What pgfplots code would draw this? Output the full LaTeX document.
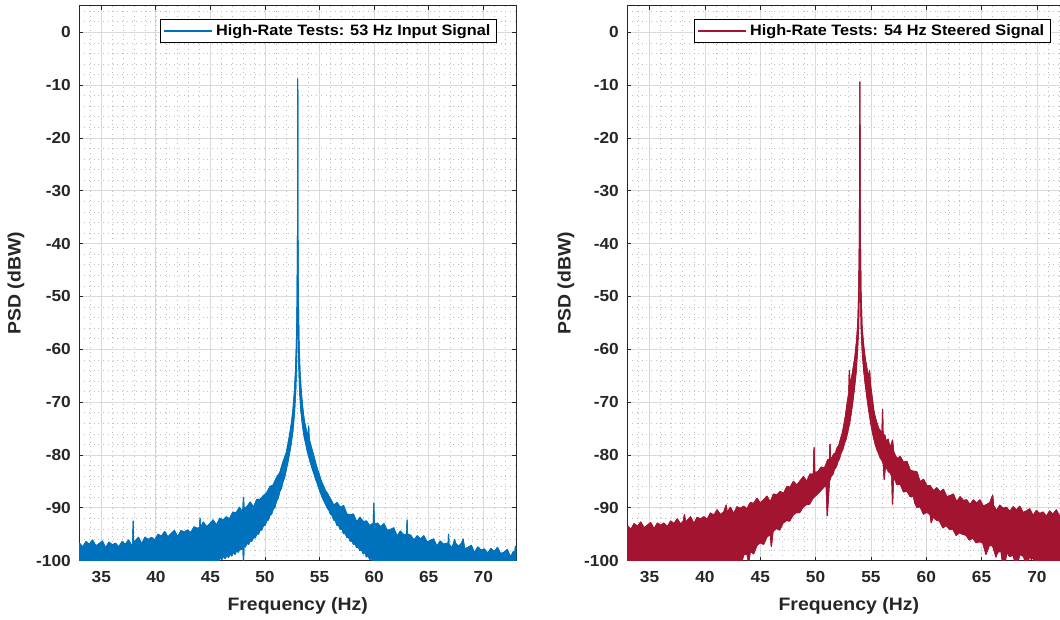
\documentclass[border=0pt]{standalone}
\usepackage{pgfplots}
\usepackage{pgfplotstable}
\pgfplotsset{compat=1.18}
\usepackage{fontspec}
\setmainfont{Liberation Sans}[FakeStretch=1.08]
\definecolor{mblue}{RGB}{0,114,189}
\definecolor{mred}{RGB}{162,20,47}
\definecolor{gridc}{RGB}{218,218,218}
\definecolor{axc}{RGB}{38,38,38}
% Left panel: upper envelope (left to right), then lower envelope (right to left)
\pgfplotstableread[row sep=\\]{
x y\\
33.0 -96.7\\ 33.3 -97.4\\ 33.6 -96.4\\ 33.9 -96.9\\ 34.2 -96.1\\ 34.5 -97.2\\ 34.8 -96.8\\ 35.1 -96.3\\
35.4 -97.6\\ 35.7 -96.5\\ 36.0 -97.0\\ 36.3 -96.7\\ 36.6 -97.4\\ 36.9 -96.4\\ 37.2 -96.9\\ 37.5 -96.1\\
37.8 -97.2\\ 37.88 -96.8\\ 37.92 -92.5\\ 37.96 -96.6\\ 38.1 -96.3\\ 38.4 -95.6\\ 38.7 -96.8\\ 39.0 -95.6\\
39.3 -96.0\\ 39.6 -95.6\\ 39.9 -96.1\\ 40.2 -95.0\\ 40.5 -95.4\\ 40.8 -94.5\\ 41.1 -95.5\\ 41.4 -94.9\\
41.7 -94.3\\ 42.0 -95.5\\ 42.3 -94.3\\ 42.6 -94.6\\ 42.9 -94.2\\ 43.2 -94.7\\ 43.5 -93.6\\ 43.8 -93.9\\
44.02 -93.7\\ 44.05 -92.0\\ 44.08 -93.8\\ 44.35 -92.7\\ 44.65 -93.6\\ 44.95 -93.0\\ 45.25 -92.3\\ 45.55 -93.3\\
45.85 -92.0\\ 46.15 -92.3\\ 46.45 -91.7\\ 46.75 -92.1\\ 47.05 -90.8\\ 47.35 -91.0\\ 47.65 -89.9\\ 47.90 -90.7\\
47.98 -90.2\\ 48.03 -88.0\\ 48.08 -90.1\\ 48.35 -89.8\\ 48.65 -88.9\\ 48.95 -89.9\\ 49.25 -88.4\\ 49.55 -88.4\\
49.85 -87.7\\ 50.15 -87.2\\ 50.45 -86.0\\ 50.75 -85.7\\ 51.05 -84.3\\ 51.35 -83.4\\ 51.65 -81.3\\ 51.95 -79.6\\
52.10 -78.0\\ 52.25 -76.3\\ 52.40 -74.3\\ 52.55 -71.8\\ 52.70 -68.0\\ 52.80 -64.0\\ 52.88 -59.0\\ 52.94 -51.0\\
52.98 -38.0\\ 53.00 -8.8\\ 53.02 -38.0\\ 53.06 -51.0\\ 53.12 -59.0\\ 53.20 -64.0\\ 53.30 -67.5\\ 53.45 -71.0\\
53.60 -73.5\\ 53.80 -75.5\\ 53.95 -76.5\\ 54.00 -74.5\\ 54.05 -77.0\\ 54.20 -78.2\\ 54.35 -79.3\\ 54.50 -80.4\\
54.65 -81.6\\ 54.80 -82.7\\ 54.95 -83.6\\ 55.10 -84.6\\ 55.25 -85.4\\ 55.40 -86.1\\ 55.55 -86.8\\ 55.70 -87.2\\
55.85 -87.8\\ 56.00 -88.3\\ 56.30 -89.5\\ 56.60 -89.0\\ 56.90 -89.9\\ 57.20 -89.6\\ 57.50 -91.2\\ 57.80 -91.3\\
58.10 -91.2\\ 58.40 -92.7\\ 58.70 -91.8\\ 59.00 -92.6\\ 59.30 -92.5\\ 59.60 -93.4\\ 59.92 -92.9\\ 59.97 -89.1\\
60.02 -93.1\\ 60.30 -92.9\\ 60.60 -93.6\\ 60.90 -93.0\\ 61.20 -94.3\\ 61.50 -94.1\\ 61.80 -93.8\\ 62.10 -95.4\\
62.40 -94.4\\ 62.70 -95.1\\ 62.98 -95.0\\ 63.02 -92.3\\ 63.06 -95.0\\ 63.35 -95.2\\ 63.65 -96.1\\ 63.95 -95.3\\
64.25 -95.9\\ 64.55 -95.3\\ 64.85 -96.5\\ 65.15 -96.2\\ 65.45 -95.9\\ 65.75 -97.3\\ 66.05 -96.3\\ 66.35 -96.9\\
66.65 -96.7\\ 66.78 -96.9\\ 66.82 -95.0\\ 66.86 -96.9\\ 67.15 -97.6\\ 67.38 -96.0\\ 67.45 -96.7\\ 67.75 -97.3\\
68.05 -96.6\\ 68.15 -95.9\\ 68.30 -97.8\\ 68.60 -97.5\\ 68.90 -97.1\\ 69.20 -98.5\\ 69.50 -97.4\\ 69.80 -98.0\\
70.10 -97.8\\ 70.40 -98.6\\ 70.70 -97.7\\ 71.00 -98.3\\ 71.30 -97.5\\ 71.60 -98.7\\ 71.90 -98.4\\ 72.20 -97.9\\
72.50 -99.3\\ 72.75 -98.3\\ 72.88 -98.7\\ 72.95 -97.3\\ 73.00 -97.3\\
73.00 -100.5\\ 59.90 -100.5\\ 59.75 -99.4\\ 59.60 -99.8\\ 59.45 -99.0\\ 59.30 -99.3\\ 59.15 -98.4\\ 59.00 -98.7\\
58.85 -97.9\\ 58.70 -98.1\\ 58.55 -97.4\\ 58.40 -97.5\\ 58.25 -96.8\\ 58.10 -96.9\\ 57.95 -96.2\\ 57.80 -96.3\\
57.65 -95.5\\ 57.50 -95.6\\ 57.35 -94.8\\ 57.20 -94.9\\ 57.05 -94.0\\ 56.90 -94.1\\ 56.75 -93.3\\ 56.60 -93.3\\
56.45 -92.4\\ 56.30 -92.3\\ 56.15 -91.4\\ 56.00 -91.2\\ 55.85 -90.4\\ 55.70 -90.0\\ 55.55 -89.3\\ 55.40 -88.7\\
55.25 -88.0\\ 55.10 -87.2\\ 54.95 -86.4\\ 54.80 -85.4\\ 54.65 -84.6\\ 54.50 -83.6\\ 54.35 -82.7\\ 54.20 -81.7\\
54.05 -80.6\\ 53.90 -79.5\\ 53.75 -78.0\\ 53.60 -76.6\\ 53.45 -74.6\\ 53.30 -71.8\\ 53.18 -68.0\\ 53.10 -63.0\\
53.05 -55.0\\ 53.02 -45.0\\ 52.98 -45.0\\ 52.95 -55.0\\ 52.90 -62.0\\ 52.82 -67.5\\ 52.70 -72.0\\ 52.55 -75.5\\
52.40 -77.8\\ 52.25 -79.6\\ 52.10 -81.3\\ 51.95 -82.7\\ 51.80 -84.2\\ 51.65 -85.0\\ 51.50 -86.3\\ 51.35 -86.9\\
51.20 -88.2\\ 51.05 -88.7\\ 50.90 -89.9\\ 50.75 -90.2\\ 50.60 -91.2\\ 50.45 -91.4\\ 50.30 -92.3\\ 50.15 -92.5\\
50.00 -93.3\\ 49.85 -93.4\\ 49.70 -94.2\\ 49.55 -94.2\\ 49.40 -95.0\\ 49.25 -94.9\\ 49.10 -95.7\\ 48.95 -95.6\\
48.80 -96.3\\ 48.65 -96.2\\ 48.50 -96.9\\ 48.35 -96.7\\ 48.20 -97.4\\ 48.08 -97.2\\ 48.03 -100.5\\ 47.98 -97.3\\
47.85 -97.9\\ 47.70 -97.7\\ 47.55 -98.4\\ 47.40 -98.1\\ 47.25 -98.8\\ 47.10 -98.4\\ 46.95 -99.1\\ 46.80 -98.7\\
46.65 -99.4\\ 46.50 -98.9\\ 46.35 -99.6\\ 46.20 -99.1\\ 46.05 -99.8\\ 45.90 -99.3\\ 45.75 -100.5\\ 33.00 -100.5\\
33.00 -96.7\\
}\leftpsd
% Right panel: upper envelope (left to right), then lower envelope (right to left)
\pgfplotstableread[row sep=\\]{
x y\\
33.0 -93.4\\ 33.3 -94.1\\ 33.6 -93.0\\ 33.9 -93.5\\ 34.2 -92.7\\ 34.5 -93.8\\ 34.8 -93.3\\ 35.1 -92.8\\
35.4 -94.0\\ 35.7 -92.9\\ 36.0 -93.3\\ 36.3 -92.9\\ 36.6 -93.6\\ 36.9 -92.5\\ 37.2 -93.0\\ 37.5 -92.1\\
37.8 -93.1\\ 38.05 -92.5\\ 38.15 -91.3\\ 38.25 -92.7\\ 38.4 -92.4\\ 38.7 -91.7\\ 39.0 -93.0\\ 39.3 -91.8\\
39.6 -92.1\\ 39.9 -91.7\\ 40.2 -92.2\\ 40.5 -91.0\\ 40.8 -91.4\\ 41.1 -90.4\\ 41.4 -91.3\\ 41.7 -90.8\\
41.92 -89.5\\ 42.0 -90.9\\ 42.3 -89.9\\ 42.6 -91.1\\ 42.9 -89.8\\ 43.2 -90.1\\ 43.5 -89.7\\ 43.8 -90.2\\
44.1 -89.0\\ 44.4 -89.2\\ 44.7 -88.2\\ 45.0 -89.1\\ 45.3 -88.5\\ 45.6 -87.8\\ 45.9 -88.9\\ 46.2 -87.4\\
46.5 -87.6\\ 46.8 -86.9\\ 47.1 -87.3\\ 47.4 -86.0\\ 47.7 -86.1\\ 48.0 -85.0\\ 48.3 -85.7\\ 48.6 -84.9\\
48.9 -84.1\\ 49.2 -85.0\\ 49.5 -83.6\\ 49.80 -83.6\\ 49.86 -78.6\\ 49.92 -83.3\\ 50.2 -83.2\\ 50.5 -82.3\\
50.8 -82.5\\ 51.1 -80.9\\ 51.25 -80.9\\ 51.30 -78.0\\ 51.35 -80.9\\ 51.50 -80.4\\ 51.65 -79.8\\ 51.80 -79.6\\
51.95 -78.6\\ 52.10 -78.2\\ 52.25 -77.0\\ 52.40 -76.0\\ 52.55 -74.4\\ 52.70 -72.6\\ 52.85 -70.2\\ 53.00 -68.3\\
53.05 -64.0\\ 53.12 -67.0\\ 53.25 -65.5\\ 53.40 -63.5\\ 53.55 -61.5\\ 53.70 -58.5\\ 53.82 -55.0\\ 53.90 -49.0\\
53.96 -38.0\\ 54.00 -9.4\\ 54.04 -38.0\\ 54.10 -49.0\\ 54.20 -56.0\\ 54.35 -59.5\\ 54.50 -62.0\\ 54.65 -63.8\\
54.80 -65.5\\ 54.88 -64.0\\ 54.95 -66.5\\ 55.10 -69.0\\ 55.25 -71.5\\ 55.40 -73.0\\ 55.55 -74.0\\ 55.70 -75.0\\
55.85 -75.4\\ 56.00 -76.2\\ 56.05 -71.4\\ 56.10 -76.5\\ 56.25 -76.2\\ 56.40 -77.6\\ 56.55 -77.0\\ 56.70 -78.4\\
56.85 -78.0\\ 56.95 -77.2\\ 57.05 -79.4\\ 57.35 -80.7\\ 57.65 -80.3\\ 57.95 -81.4\\ 58.25 -81.2\\ 58.55 -82.9\\
58.85 -83.1\\ 59.15 -83.2\\ 59.45 -85.1\\ 59.75 -84.6\\ 60.05 -85.8\\ 60.35 -85.8\\ 60.65 -86.8\\ 60.95 -86.2\\
61.25 -87.0\\ 61.55 -86.5\\ 61.85 -87.9\\ 62.15 -87.7\\ 62.45 -87.4\\ 62.75 -88.9\\ 63.05 -87.9\\ 63.35 -88.6\\
63.65 -88.5\\ 63.95 -89.4\\ 64.25 -88.5\\ 64.55 -89.1\\ 64.85 -88.5\\ 65.15 -89.7\\ 65.45 -89.4\\ 65.75 -89.0\\
66.00 -87.6\\ 66.08 -89.6\\ 66.35 -90.5\\ 66.65 -89.5\\ 66.95 -90.1\\ 67.25 -89.9\\ 67.55 -90.7\\ 67.85 -89.8\\
68.15 -90.4\\ 68.45 -89.7\\ 68.75 -90.9\\ 69.05 -90.6\\ 69.35 -90.2\\ 69.65 -91.5\\ 69.95 -90.5\\ 70.25 -91.1\\
70.55 -90.8\\ 70.85 -91.6\\ 71.15 -90.6\\ 71.45 -91.2\\ 71.75 -90.4\\ 72.05 -91.6\\ 72.35 -91.2\\ 72.65 -90.8\\
72.95 -92.1\\ 73.00 -91.5\\
73.00 -100.5\\ 69.80 -100.5\\ 69.65 -99.3\\ 69.50 -99.8\\ 69.35 -99.0\\ 69.15 -100.5\\ 68.95 -100.5\\ 68.80 -99.2\\
68.45 -98.8\\ 68.25 -100.5\\ 68.05 -100.5\\ 67.85 -99.0\\ 67.50 -99.2\\ 67.30 -98.3\\ 67.10 -100.5\\ 66.90 -100.5\\
66.75 -98.2\\ 66.45 -98.4\\ 66.30 -99.3\\ 66.00 -97.2\\ 65.70 -97.1\\ 65.40 -98.8\\ 65.10 -96.6\\ 64.80 -96.4\\
64.50 -96.6\\ 64.20 -95.7\\ 63.90 -96.1\\ 63.60 -95.2\\ 63.30 -95.0\\ 63.00 -94.7\\ 62.70 -95.2\\ 62.40 -94.0\\
62.10 -94.1\\ 61.80 -93.3\\ 61.50 -93.8\\ 61.20 -92.5\\ 60.90 -92.3\\ 60.60 -91.7\\ 60.45 -92.8\\ 60.35 -91.3\\
60.05 -90.8\\ 59.75 -91.2\\ 59.45 -89.8\\ 59.15 -89.9\\ 58.95 -89.0\\ 58.85 -87.8\\ 58.55 -87.9\\ 58.25 -86.8\\
57.95 -87.0\\ 57.65 -85.5\\ 57.35 -85.6\\ 57.05 -84.1\\ 56.95 -89.3\\ 56.88 -84.0\\ 56.75 -83.4\\ 56.60 -83.2\\
56.45 -82.6\\ 56.30 -82.2\\ 56.20 -84.6\\ 56.12 -81.7\\ 56.00 -81.0\\ 55.85 -80.6\\ 55.70 -79.7\\ 55.55 -79.0\\
55.40 -78.0\\ 55.25 -76.8\\ 55.10 -75.3\\ 54.95 -73.5\\ 54.80 -71.5\\ 54.65 -69.2\\ 54.50 -66.8\\ 54.35 -64.0\\
54.22 -60.5\\ 54.12 -56.0\\ 54.06 -49.0\\ 54.02 -42.0\\ 53.98 -42.0\\ 53.94 -49.0\\ 53.88 -56.0\\ 53.78 -60.5\\
53.65 -64.5\\ 53.50 -67.5\\ 53.35 -70.0\\ 53.20 -72.3\\ 53.05 -74.2\\ 52.90 -75.6\\ 52.75 -77.0\\ 52.60 -77.8\\
52.45 -79.0\\ 52.30 -79.6\\ 52.15 -80.7\\ 52.00 -81.3\\ 51.85 -82.3\\ 51.70 -82.7\\ 51.55 -83.7\\ 51.40 -84.0\\
51.25 -85.0\\ 51.05 -91.5\\ 50.95 -85.6\\ 50.65 -86.3\\ 50.35 -87.0\\ 50.05 -87.6\\ 49.75 -88.2\\ 49.45 -89.3\\
49.15 -89.4\\ 48.85 -89.9\\ 48.55 -90.9\\ 48.25 -90.9\\ 47.95 -91.4\\ 47.65 -92.5\\ 47.35 -92.4\\ 47.05 -92.9\\
46.75 -94.2\\ 46.45 -93.9\\ 46.15 -94.5\\ 46.00 -97.3\\ 45.90 -95.0\\ 45.60 -95.5\\ 45.30 -96.9\\ 45.00 -96.6\\
44.70 -97.1\\ 44.40 -98.7\\ 44.10 -98.2\\ 43.95 -100.5\\ 43.80 -98.7\\ 43.50 -98.9\\ 43.30 -100.5\\ 43.10 -99.4\\
42.95 -100.5\\ 33.00 -100.5\\ 33.00 -93.4\\
}\rightpsd
\pgfplotsset{
  psd/.style={
    scale only axis, height=416.1pt,
    xmin=33, xmax=73, ymin=-100, ymax=5,
    xtick={35,40,...,70}, xticklabels={35,40,45,50,55,60,65,70},
    ytick={-100,-90,...,0}, yticklabels={-100,-90,-80,-70,-60,-50,-40,-30,-20,-10,0},
    minor xtick={33,...,73}, minor ytick={-98,-96,...,4},
    grid=both,
    major grid style={gridc, line width=0.6pt},
    minor grid style={gray!50, line width=0.5pt, dash pattern=on 0.55pt off 3pt},
    tick align=inside, tickpos=both, major tick length=3pt, minor tick length=0pt,
    tick style={axc, line width=0.6pt},
    axis line style={axc, line width=0.7pt},
    xticklabel style={font=\bfseries\fontsize{12}{14}\selectfont, text=axc, yshift=-4.5pt},
    yticklabel style={font=\bfseries\fontsize{12}{14}\selectfont, text=axc, xshift=-3pt},
    label style={font=\bfseries\fontsize{13.5}{16}\selectfont, text=axc},
    xlabel={Frequency (Hz)}, ylabel={PSD (dBW)},
    xlabel style={at={(axis description cs:0.5,-0.081)}, anchor=center},
    legend cell align=left,
    legend style={at={(axis description cs:0.956,0.9766)}, anchor=north east, draw=black, line width=0.6pt, fill=white, font=\bfseries\fontsize{11.3}{13}\selectfont, inner xsep=2.5pt, inner ysep=2pt},
    legend image code/.code={\draw[#1, line width=1.5pt] (-2pt,0pt) -- (34pt,0pt);},
  }
}
\begin{document}
\begin{tikzpicture}
\useasboundingbox (0,0) rectangle (795pt,465pt);
\clip (0,0) rectangle (795pt,465pt);
\begin{axis}[psd, at={(59.6pt,44.5pt)}, anchor=south west, width=327.4pt,
  ylabel style={at={(axis description cs:-0.1455,0.5)}, anchor=center}]
\addplot[fill=mblue, draw=mblue, line width=0.75pt, line join=round, forget plot] table[x=x,y=y] {\leftpsd};
\addplot[fill=mblue, draw=mblue, line width=0.75pt, line join=round] table[x=x,y=y] {\leftpsd};
\addlegendentry{High-Rate Tests: 53 Hz Input Signal}
\end{axis}
\begin{axis}[psd, at={(470.6pt,44.5pt)}, anchor=south west, width=332pt,
  ylabel style={at={(axis description cs:-0.139,0.5)}, anchor=center}]
\addplot[fill=mred, draw=mred, line width=0.75pt, line join=round, forget plot] table[x=x,y=y] {\rightpsd};
\addplot[fill=mred, draw=mred, line width=0.75pt, line join=round] table[x=x,y=y] {\rightpsd};
\addlegendentry{High-Rate Tests: 54 Hz Steered Signal}
\end{axis}
\end{tikzpicture}
\end{document}
